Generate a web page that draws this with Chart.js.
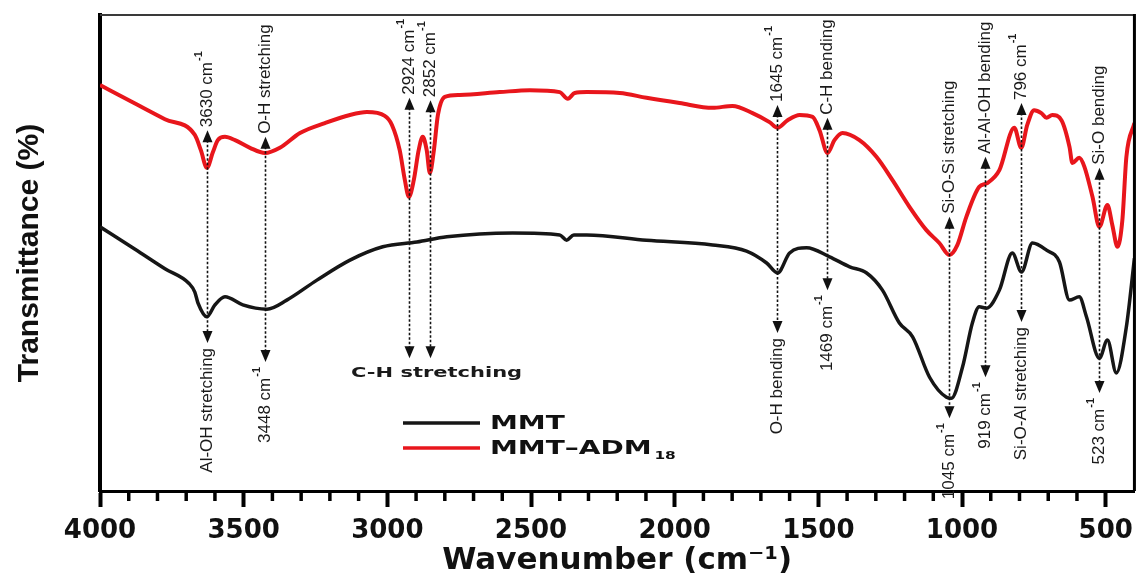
<!DOCTYPE html>
<html><head><meta charset="utf-8">
<script src="https://cdn.jsdelivr.net/npm/chart.js@4.4.1/dist/chart.umd.min.js"></script>
<style>html,body{margin:0;padding:0;background:#fff}canvas{display:block}</style>
</head><body>
<canvas id="c" width="1142" height="578"></canvas>
<script>
// ---- data ----
const mmtWavenumber = [4000,3878,3774,3690,3670,3659,3628,3600,3565,3503,3419,3350,3245,3130,3016,2897,2793,2564,2400,2376,2351,2306,2098,1868,1750,1680,1642,1600,1541,1461,1391,1332,1277,1218,1172,1113,1054,1037,998,964,940,915,870,825,793,755,706,661,626,592,567,522,494,463,428,400];
const mmtTransmittance = [55.5,50.8,46.7,43.6,41.8,39.5,36.6,39.1,40.8,39.1,38.2,40.1,44.3,48.5,51.3,52.3,53.4,54.2,53.8,52.7,53.8,53.8,52.7,51.7,50.4,47.9,45.8,50.0,51.1,49.2,47.1,45.8,42.2,35.3,32.4,23.9,19.7,19.5,26.1,35.3,38.7,38.4,42.2,50.0,46.0,52.1,50.6,48.1,40.1,40.8,36.6,27.9,31.7,24.8,34.5,48.9];
const admWavenumber = [4000,3878,3774,3670,3649,3628,3607,3590,3565,3530,3478,3426,3374,3304,3217,3130,3071,3009,2984,2957,2939,2925,2908,2891,2877,2863,2852,2838,2824,2800,2748,2609,2504,2400,2372,2348,2306,2191,2098,1983,1868,1799,1729,1670,1642,1607,1565,1520,1496,1468,1444,1416,1357,1298,1242,1183,1124,1079,1044,1016,985,940,912,870,818,794,773,749,724,706,686,654,626,616,592,574,546,522,494,477,459,442,428,400];
const admTransmittance = [85.3,81.4,78.1,74.8,71.6,67.9,71.2,73.7,74.4,73.7,72.1,71.0,72.1,75.2,77.3,79.0,79.6,78.8,76.9,71.6,65.3,61.8,65.3,71.6,74.4,71.6,66.8,71.6,79.0,82.8,83.2,83.8,84.2,83.8,82.4,83.6,83.8,83.6,82.6,81.5,80.5,80.9,79.4,77.5,76.3,77.9,79.0,78.6,75.8,71.0,73.7,75.2,73.7,70.2,65.3,59.7,54.8,52.1,49.6,51.7,57.6,63.9,64.7,67.4,76.3,72.1,76.9,80.0,79.4,78.4,79.0,77.9,72.3,68.9,70.0,68.1,61.8,55.5,60.1,55.9,51.3,56.9,70.2,77.3];
const seriesNames = ['MMT', 'MMT\u2013ADM'];
const seriesSubscript = ['', '18'];
const tickLabels = [4000,3500,3000,2500,2000,1500,1000,500];
const xTitle = 'Wavenumber (cm\u207B\u00B9)';
const yTitle = 'Transmittance (%)';

// band annotations
const bandPositions = [3628, 3425, 2924, 2852, 1645, 1469, 1045, 919, 796, 523];
const bandTopEnd    = [75.8, 74.4, 82.6, 82.1, 81.1, 78.4, 57.6, 70.2, 81.5, 67.9];
const bandBottomEnd = [31.1, 27.1, 27.9, 27.9, 33.2, 42.2, 15.3, 23.9, 35.5, 20.6];
const bandTopText = [['3630 cm','-1'],['O-H stretching',''],['2924 cm','-1'],['2852 cm','-1'],['1645 cm','-1'],['C-H bending',''],['Si-O-Si stretching',''],['Al-Al-OH bending',''],['796 cm','-1'],['Si-O bending','']];
const bandBottomText = [['Al-OH stretching',''],['3448 cm','-1'],null,null,['O-H bending',''],['1469 cm','-1'],['1045 cm','-1'],['919 cm','-1'],['Si-O-Al stretching',''],['523 cm','-1']];
const groupLabel = 'C-H stretching';
const groupBands = [2924, 2852];

const RED = '#e8161c', BLACK = '#161616';

function drawRotLabel(ctx, px, yStart, main, sup) {
  ctx.save();
  ctx.translate(px, yStart);
  ctx.rotate(-Math.PI / 2);
  ctx.fillStyle = '#1a1a1a';
  ctx.textBaseline = 'middle';
  ctx.textAlign = 'left';
  ctx.font = '17px "Liberation Sans", Arial, sans-serif';
  ctx.fillText(main, 0, 0);
  if (sup) {
    const w = ctx.measureText(main).width;
    ctx.font = 'bold 11px "Liberation Sans", Arial, sans-serif';
    ctx.fillText(sup, w + 1, -9);
  }
  ctx.restore();
}
function labelLength(ctx, main, sup) {
  ctx.save();
  ctx.font = '17px "Liberation Sans", Arial, sans-serif';
  let w = ctx.measureText(main).width;
  if (sup) { ctx.font = 'bold 11px "Liberation Sans", Arial, sans-serif'; w += 1 + ctx.measureText(sup).width; }
  ctx.restore();
  return w;
}
function head(ctx, px, tipY, dir) {
  ctx.beginPath();
  ctx.moveTo(px, tipY);
  ctx.lineTo(px - 5, tipY + dir * 12);
  ctx.lineTo(px + 5, tipY + dir * 12);
  ctx.closePath();
  ctx.fill();
}

const decorPlugin = {
  id: 'decor',
  afterDatasetsDraw(chart) {
    const {ctx, chartArea: ca, scales: {x, y}} = chart;
    ctx.save();
    ctx.strokeStyle = '#3a3a3a'; ctx.lineWidth = 2;
    ctx.beginPath(); ctx.moveTo(ca.left, ca.top); ctx.lineTo(ca.right, ca.top); ctx.stroke();
    ctx.strokeStyle = '#000'; ctx.lineWidth = 3;
    ctx.beginPath(); ctx.moveTo(ca.right, ca.top - 1); ctx.lineTo(ca.right, ca.bottom); ctx.stroke();
    ctx.lineWidth = 3.5; ctx.strokeStyle = '#000';
    for (let v = 3900; v > 400; v -= 100) {
      if (v % 500 === 0) continue;
      const px = x.getPixelForValue(v);
      ctx.beginPath(); ctx.moveTo(px, ca.bottom); ctx.lineTo(px, ca.bottom + 10); ctx.stroke();
    }
    ctx.fillStyle = '#111'; ctx.strokeStyle = '#111';
    bandPositions.forEach((wn, i) => {
      const px = Math.round(x.getPixelForValue(wn)) + 0.5;
      const yT = y.getPixelForValue(bandTopEnd[i]);
      const yB = y.getPixelForValue(bandBottomEnd[i]);
      ctx.setLineDash([2.5, 2]); ctx.lineWidth = 1.6;
      ctx.beginPath(); ctx.moveTo(px, yT + 10); ctx.lineTo(px, yB - 10); ctx.stroke();
      ctx.setLineDash([]);
      head(ctx, px, yT, 1); head(ctx, px, yB, -1);
      const t = bandTopText[i];
      if (t) drawRotLabel(ctx, px, yT - 3, t[0], t[1]);
      const b = bandBottomText[i];
      if (b) drawRotLabel(ctx, px, yB + 5 + labelLength(ctx, b[0], b[1]), b[0], b[1]);
    });
    const gx = (x.getPixelForValue(groupBands[0]) + x.getPixelForValue(groupBands[1])) / 2 + 17;
    const gy = y.getPixelForValue(Math.min(...groupBands.map(w => bandBottomEnd[bandPositions.indexOf(w)]))) + 15;
    ctx.save();
    ctx.translate(gx, gy); ctx.scale(1.5, 1);
    ctx.font = 'bold 14px "DejaVu Sans", sans-serif';
    ctx.fillStyle = '#1a1a1a'; ctx.textAlign = 'center'; ctx.textBaseline = 'middle';
    ctx.fillText(groupLabel, 0, 0);
    ctx.restore();
    const colors = [BLACK, RED];
    const lx = 403, ly = [423, 448];
    colors.forEach((c, i) => {
      ctx.strokeStyle = c; ctx.lineWidth = 3.5;
      ctx.beginPath(); ctx.moveTo(lx, ly[i]); ctx.lineTo(lx + 77, ly[i]); ctx.stroke();
      ctx.save();
      ctx.translate(lx + 87, ly[i] + 1);
      ctx.scale(1.4, 1);
      ctx.font = 'bold 20px "DejaVu Sans", sans-serif';
      ctx.fillStyle = '#111'; ctx.textAlign = 'left'; ctx.textBaseline = 'middle';
      ctx.fillText(seriesNames[i], 0, 0);
      if (seriesSubscript[i]) {
        const w = ctx.measureText(seriesNames[i]).width;
        ctx.font = 'bold 11px "DejaVu Sans", sans-serif';
        ctx.fillText(seriesSubscript[i], w + 2, 7);
      }
      ctx.restore();
    });
    ctx.restore();
  }
};

new Chart(document.getElementById('c'), {
  type: 'line',
  data: {
    datasets: [
      { label: 'MMT', data: mmtWavenumber.map((w, i) => ({x: w, y: mmtTransmittance[i]})),
        borderColor: BLACK, borderWidth: 3.5, pointRadius: 0, cubicInterpolationMode: 'monotone', fill: false },
      { label: 'MMT\u2013ADM18', data: admWavenumber.map((w, i) => ({x: w, y: admTransmittance[i]})),
        borderColor: RED, borderWidth: 4, pointRadius: 0, cubicInterpolationMode: 'monotone', fill: false }
    ]
  },
  options: {
    responsive: false, animation: false, devicePixelRatio: 1,
    layout: { padding: { top: 15, right: 6, left: 0, bottom: 0 }, autoPadding: false },
    plugins: { legend: { display: false }, tooltip: { enabled: false } },
    scales: {
      x: {
        type: 'linear', reverse: true, min: 400, max: 4000,
        afterBuildTicks: s => { s.ticks = tickLabels.map(v => ({value: v})); },
        afterFit: s => { s.height = 87; },
        ticks: { autoSkip: false, maxRotation: 0, padding: 9, color: '#111',
          font: { family: '"DejaVu Sans", sans-serif', size: 26, weight: 'bold' },
          callback: v => String(v) },
        grid: { drawOnChartArea: false, drawTicks: true, tickLength: 16, tickWidth: 4, tickColor: '#000' },
        border: { display: true, color: '#000', width: 3 },
        title: { display: true, text: xTitle, color: '#111', padding: { top: 0, bottom: 0 },
          font: { family: '"DejaVu Sans", sans-serif', size: 31, weight: 'bold', lineHeight: 1.1 } }
      },
      y: {
        min: 0, max: 100,
        afterFit: s => { s.width = 100; },
        ticks: { display: false },
        grid: { drawOnChartArea: false, drawTicks: false },
        border: { display: true, color: '#000', width: 4 },
        title: { display: true, text: yTitle, color: '#111', padding: { top: 12, bottom: 0 },
          font: { family: '"Liberation Sans", Arial, sans-serif', size: 30, weight: 'bold' } }
      }
    }
  },
  plugins: [decorPlugin]
});
</script>
</body></html>
